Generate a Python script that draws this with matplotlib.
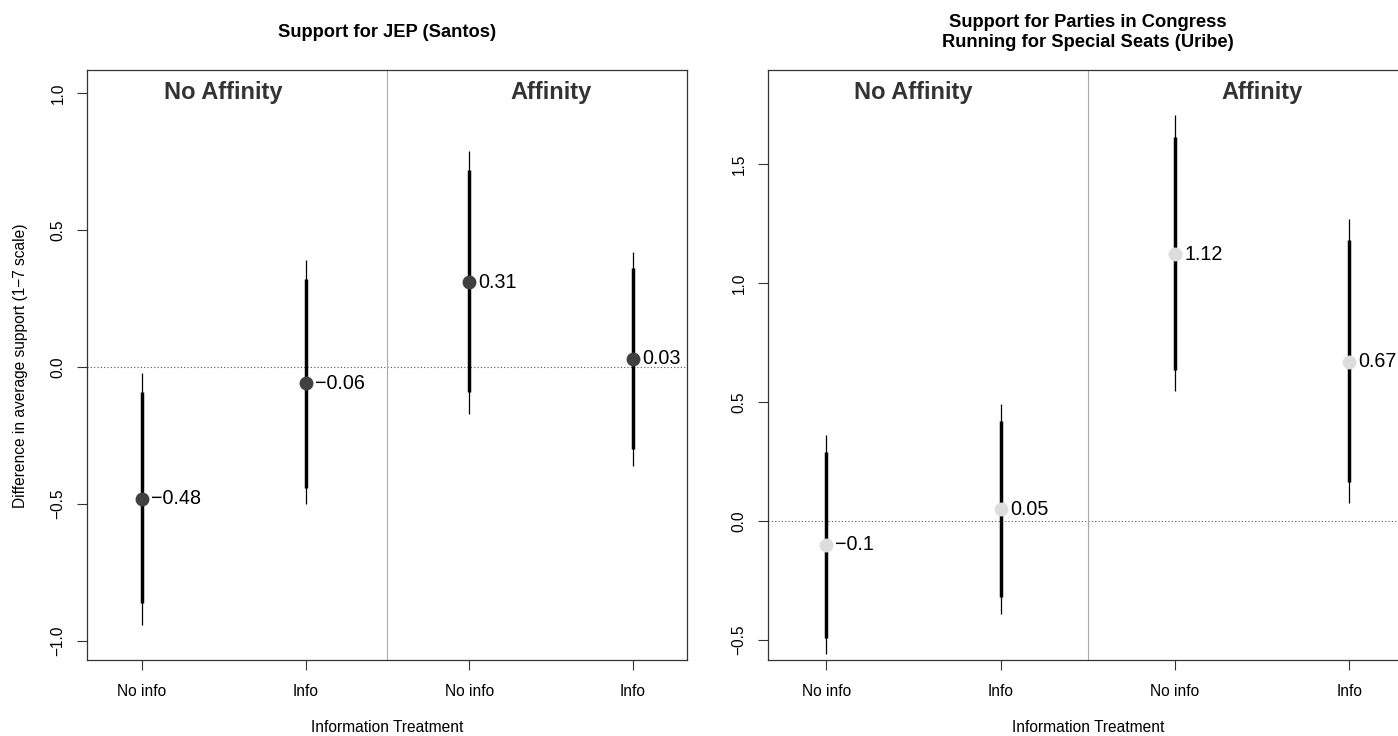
import matplotlib
matplotlib.use("Agg")
import matplotlib.pyplot as plt
from matplotlib.transforms import blended_transform_factory

plt.rcParams.update({
    "font.family": ["Liberation Sans", "DejaVu Sans"],
    "axes.unicode_minus": True,
})

# positions 1..4: No info / Info (No Affinity), No info / Info (Affinity)
tick_labels = ["No info", "Info", "No info", "Info"]
group_labels = ["No Affinity", "Affinity"]

# Support for JEP (Santos)
jep_est = [-0.48, -0.06, 0.31, 0.03]
jep_lo90 = [-0.86, -0.44, -0.09, -0.30]
jep_hi90 = [-0.09, 0.32, 0.72, 0.36]
jep_lo95 = [-0.94, -0.50, -0.17, -0.36]
jep_hi95 = [-0.02, 0.39, 0.79, 0.42]

# Support for parties running for special seats (Uribe)
uribe_est = [-0.10, 0.05, 1.12, 0.67]
uribe_lo90 = [-0.49, -0.32, 0.635, 0.165]
uribe_hi90 = [0.29, 0.42, 1.615, 1.18]
uribe_lo95 = [-0.56, -0.39, 0.545, 0.075]
uribe_hi95 = [0.36, 0.49, 1.705, 1.27]

W, H = 1398, 736


def minus(s):
    return s.replace("-", "\u2212")


def panel(ax, est, lo90, hi90, lo95, hi95, point_color, ylim, yticks):
    xs = range(1, len(est) + 1)
    ax.axhline(0, color="#555555", lw=0.8, ls=(0, (1, 2)), zorder=1)
    ax.axvline(2.5, color="#aaaaaa", lw=0.8, zorder=1)
    for x, e, a, b, c, d in zip(xs, est, lo90, hi90, lo95, hi95):
        ax.plot([x, x], [c, d], color="black", lw=0.9, solid_capstyle="butt", zorder=2)
        ax.plot([x, x], [a, b], color="black", lw=2.5, solid_capstyle="butt", zorder=3)
        ax.plot(x, e, "o", ms=10, color=point_color, mec="none", zorder=4)
        ax.annotate(minus(f"{round(e, 2):g}"), (x, e), xytext=(6.5, 0),
                    textcoords="offset points", ha="left", va="center",
                    fontsize=14.2, zorder=5)
    ax.set_xlim(0.665, 4.33)
    ax.set_ylim(*ylim)
    ax.set_xticks(list(xs))
    ax.set_xticklabels(tick_labels, fontsize=11.2)
    ax.set_yticks(yticks)
    ax.set_yticklabels([minus(f"{t:.1f}") for t in yticks],
                       fontsize=11.2, rotation=90, va="center")
    ax.tick_params(length=7, width=0.8, color="#333333")
    ax.tick_params(axis="x", pad=10.5)
    ax.tick_params(axis="y", pad=8.5)
    for s in ax.spines.values():
        s.set_linewidth(0.9)
        s.set_color("#333333")
    trans = blended_transform_factory(ax.transData, ax.transAxes)
    for gx, lab in zip([1.5, 3.5], group_labels):
        ax.text(gx, 0.962, lab, transform=trans, ha="center", va="center",
                fontsize=17, weight="bold", color="#333333")


fig = plt.figure(figsize=(W / 100, H / 100), dpi=100)
ax1 = fig.add_axes([87 / W, 76 / H, 600 / W, 590 / H])
ax2 = fig.add_axes([768 / W, 76 / H, 639 / W, 590 / H])

panel(ax1, jep_est, jep_lo90, jep_hi90, jep_lo95, jep_hi95, "#404040",
      (-1.069, 1.084), [-1.0, -0.5, 0.0, 0.5, 1.0])
panel(ax2, uribe_est, uribe_lo90, uribe_hi90, uribe_lo95, uribe_hi95, "#dddddd",
      (-0.584, 1.895), [-0.5, 0.0, 0.5, 1.0, 1.5])

fig.text(21 / W, 1 - 366 / H, "Difference in average support (1\u22127 scale)",
         rotation=90, ha="center", va="center", fontsize=11.2)
for cx, title in [(387, "Support for JEP (Santos)"),
                  (1088, "Support for Parties in Congress\nRunning for Special Seats (Uribe)")]:
    fig.text(cx / W, 1 - 32.5 / H, title, ha="center", va="center",
             fontsize=13.2, weight="bold", linespacing=1.25)
    fig.text(cx / W, 1 - 727 / H, "Information Treatment", ha="center",
             va="center", fontsize=11.2)

fig.savefig("out.png", dpi=100, facecolor="white")
